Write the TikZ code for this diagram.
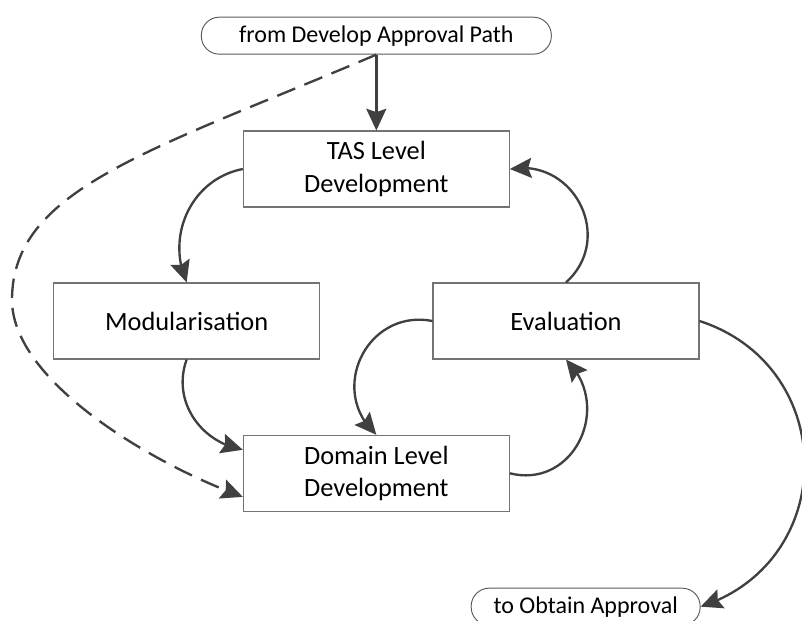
\documentclass[tikz,border=0pt]{standalone}
\usepackage{fontspec}
\setmainfont{Carlito}
\usetikzlibrary{arrows.meta, bending}

\begin{document}
\begin{tikzpicture}[x=1cm, y=1cm,
    box/.style={draw=boxgrey, line width=0.9pt, minimum width=7.98cm, minimum height=2.28cm,
      inner sep=2pt, align=center, font=\fontsize{22.5}{27.5}\selectfont},
    pill/.style={draw=pillgrey, line width=0.8pt, rounded corners=5.4mm, minimum height=1.11cm,
      inner sep=2pt, font=\fontsize{20.5}{24}\selectfont},
    tip/.tip={Stealth[length=6.5mm, width=6mm, inset=1mm]},
    flow/.style={draw=arrowgrey, line width=2pt, -tip},
    skip/.style={flow, dash pattern=on 5.8mm off 3mm}]
  \colorlet{boxgrey}{black!55}
  \colorlet{pillgrey}{black!65}
  \colorlet{arrowgrey}{black!75}
  \useasboundingbox (0, 0) rectangle (24.06, -18.63);
  % ---- entry and exit ------------------------------------------------------
  \node[pill, minimum width=10.5cm] (from) at (11.29, -1.07) {from Develop Approval Path};
  \node[pill, minimum width=6.87cm] (obtain) at (17.57, -18.2) {to Obtain Approval};
  % ---- process boxes -------------------------------------------------------
  \node[box] (tas) at (11.29, -5.07) {TAS Level\\Development};
  \node[box] (mod) at (5.6, -9.63) {Modularisation};
  \node[box] (eval) at (16.98, -9.63) {Evaluation};
  \node[box] (dom) at (11.29, -14.2) {Domain Level\\Development};
  % ---- connectors ----------------------------------------------------------
  \coordinate (bendL) at (0.36, -9.0);
  \draw[flow] (from.south) -- (tas.north);
  \draw[skip] (from.south) .. controls +(203:7.5) and +(90:3.3) .. (bendL)
    .. controls +(-90:2.4) and +(160:3) .. (dom.190);
  \draw[flow] (tas.west) to[out=191, in=114, looseness=1.05] (mod.north);
  \draw[flow] (mod.south) to[out=250, in=170, looseness=1.05] (dom.170);
  \draw[flow] (eval.west) to[out=169, in=138, looseness=1.34] (dom.north);
  \draw[flow] (dom.east) to[out=-14, in=-44, looseness=1.34] (eval.south);
  \draw[flow] (eval.north) to[out=42, in=10, looseness=1.33] (tas.east);
  \draw[flow] (eval.east) to[out=-18, in=18, looseness=1.31] (obtain.east);
\end{tikzpicture}
\end{document}
